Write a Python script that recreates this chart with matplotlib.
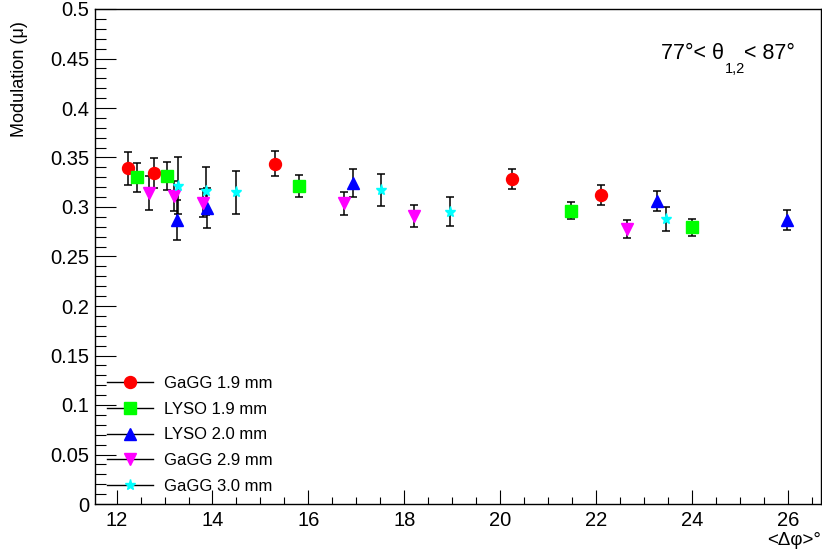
import matplotlib
matplotlib.use("Agg")
import matplotlib.pyplot as plt
from matplotlib.lines import Line2D
from matplotlib.ticker import MultipleLocator, FuncFormatter

plt.rcParams['font.family'] = ['Liberation Sans', 'DejaVu Sans']

# modulation vs mean delta-phi, per crystal
gagg19_x = [12.24, 12.79, 15.30, 20.24, 22.10]
gagg19_y = [0.339, 0.3346, 0.3437, 0.3283, 0.3121]
gagg19_e = [0.0165, 0.015, 0.0126, 0.0103, 0.0103]

lyso19_x = [12.43, 13.06, 15.81, 21.48, 24.00]
lyso19_y = [0.330, 0.3313, 0.3209, 0.2964, 0.2795]
lyso19_e = [0.0148, 0.0138, 0.0113, 0.0089, 0.0086]

lyso20_x = [13.27, 13.89, 16.93, 23.28, 25.98]
lyso20_y = [0.2870, 0.2988, 0.3242, 0.3062, 0.2866]
lyso20_e = [0.020, 0.020, 0.0138, 0.0103, 0.0101]

gagg29_x = [12.67, 13.19, 13.80, 16.74, 18.21, 22.65]
gagg29_y = [0.3145, 0.3109, 0.3040, 0.3038, 0.2909, 0.2779]
gagg29_e = [0.0172, 0.0153, 0.0144, 0.0116, 0.0108, 0.0092]

gagg30_x = [13.28, 13.86, 14.48, 17.51, 18.95, 23.45]
gagg30_y = [0.3215, 0.3165, 0.3148, 0.3175, 0.2953, 0.2879]
gagg30_e = [0.0286, 0.0242, 0.0219, 0.0162, 0.0145, 0.0121]

series = [
    ("GaGG 1.9 mm", gagg19_x, gagg19_y, gagg19_e, 'o', '#ff0000', 8.6),
    ("LYSO 1.9 mm", lyso19_x, lyso19_y, lyso19_e, 's', '#00ff00', 8.8),
    ("LYSO 2.0 mm", lyso20_x, lyso20_y, lyso20_e, '^', '#0000ff', 8.6),
    ("GaGG 2.9 mm", gagg29_x, gagg29_y, gagg29_e, 'v', '#ff00ff', 8.6),
    ("GaGG 3.0 mm", gagg30_x, gagg30_y, gagg30_e, '*', '#00ffff', 8.0),
]

fig = plt.figure(figsize=(8.22, 5.54), dpi=100)
ax = fig.add_axes([95/822, 50/554, 726/822, 495/554])

handles = []
for name, x, y, e, m, c, ms in series:
    ax.errorbar(x, y, yerr=e, fmt=m, color=c, mec=c, ms=ms,
                ecolor='black', elinewidth=1.1, capsize=3, capthick=1.1)
    handles.append(Line2D([], [], color='black', lw=1, marker=m,
                          mfc=c, mec=c, ms=ms))

ax.set_xlim(11.55, 26.69)
ax.set_ylim(0, 0.5)

ax.xaxis.set_major_locator(MultipleLocator(2))
ax.xaxis.set_minor_locator(MultipleLocator(0.5))
ax.yaxis.set_major_locator(MultipleLocator(0.05))
ax.yaxis.set_minor_locator(MultipleLocator(0.01))
ax.yaxis.set_major_formatter(FuncFormatter(lambda v, p: '%g' % round(v, 3)))

ax.tick_params(axis='both', which='both', direction='in', width=0.8,
               labelsize=14.5, top=False, right=False)
ax.tick_params(axis='x', which='major', length=10.3, pad=5)
ax.tick_params(axis='x', which='minor', length=5)
ax.tick_params(axis='y', which='major', length=15, pad=4)
ax.tick_params(axis='y', which='minor', length=8)
for s in ax.spines.values():
    s.set_linewidth(1)

ax.set_ylabel("Modulation (μ)", fontsize=13, loc='top')
ax.yaxis.set_label_coords(-0.092, 0.975)
ax.set_xlabel("<Δφ>°", fontsize=13.5, loc='right')
ax.xaxis.set_label_coords(1.0, -0.056)

# angular cut, drawn in pixel coordinates with a lowered subscript
fig.text(661, 495, "77°< θ", fontsize=15.5, transform=None, va='baseline')
fig.text(725, 481, "1,2", fontsize=10.5, transform=None, va='baseline')
fig.text(744, 495, "< 87°", fontsize=15.5, transform=None, va='baseline')

ax.legend(handles, [s[0] for s in series], loc='upper left',
          bbox_to_anchor=((107-95)/726, (504-376)/495), frameon=False,
          fontsize=12, handlelength=2.76, handletextpad=0.66,
          labelspacing=0.64, borderpad=0, borderaxespad=0)

fig.savefig("out.png", dpi=100)
